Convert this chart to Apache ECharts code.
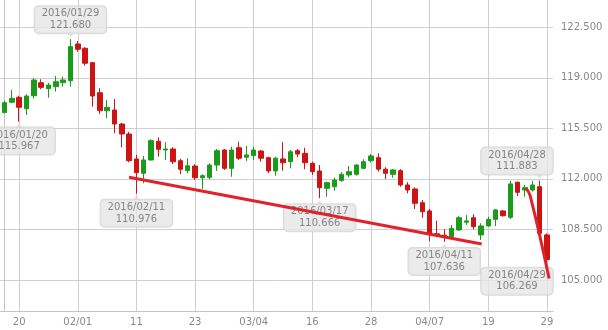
<!DOCTYPE html>
<html>
<head>
<meta charset="utf-8">
<script src="https://cdn.jsdelivr.net/npm/echarts/dist/echarts.min.js"></script>
<style>
html,body{margin:0;padding:0;background:#fff;}
#chart{width:608px;height:330px;}
</style>
</head>
<body>
<div id="chart"></div>
<script>
// ---------------- data ----------------
const dates = ['2016/01/18','2016/01/19','2016/01/20','2016/01/21','2016/01/22','2016/01/25','2016/01/26','2016/01/27','2016/01/28','2016/01/29',
'2016/02/01','2016/02/02','2016/02/03','2016/02/04','2016/02/05','2016/02/08','2016/02/09','2016/02/10','2016/02/11','2016/02/12',
'2016/02/15','2016/02/16','2016/02/17','2016/02/18','2016/02/19','2016/02/22','2016/02/23','2016/02/24','2016/02/25','2016/02/26',
'2016/02/29','2016/03/01','2016/03/02','2016/03/03','2016/03/04','2016/03/07','2016/03/08','2016/03/09','2016/03/10','2016/03/11',
'2016/03/14','2016/03/15','2016/03/16','2016/03/17','2016/03/18','2016/03/21','2016/03/22','2016/03/23','2016/03/24','2016/03/25',
'2016/03/28','2016/03/29','2016/03/30','2016/03/31','2016/04/01','2016/04/04','2016/04/05','2016/04/06','2016/04/07','2016/04/08',
'2016/04/11','2016/04/12','2016/04/13','2016/04/14','2016/04/15','2016/04/18','2016/04/19','2016/04/20','2016/04/21','2016/04/22',
'2016/04/25','2016/04/26','2016/04/27','2016/04/28','2016/04/29'];

const opens = [116.59,117.31,117.65,116.86,117.76,118.66,118.25,118.39,118.66,118.80,
121.34,121.05,120.05,117.97,116.72,116.77,115.80,115.11,113.38,112.39,
113.31,114.60,114.00,114.07,113.26,112.57,112.89,112.08,112.11,112.96,
114.00,112.73,114.16,113.50,113.61,113.93,113.47,112.55,113.38,113.19,
113.95,113.77,113.08,112.55,111.35,111.46,111.88,112.27,112.32,112.73,
113.26,113.47,112.67,112.32,112.57,111.58,111.30,110.35,109.78,108.20,
108.10,108.00,108.46,109.00,109.31,108.12,108.74,109.20,109.78,109.34,
111.77,111.23,111.23,111.46,108.12];

const closes = [117.28,117.58,116.96,117.74,118.85,118.34,118.50,118.73,118.85,121.16,
120.98,120.01,117.74,116.72,116.96,115.80,115.11,113.26,112.43,113.31,
114.65,114.05,114.07,113.19,112.67,112.91,112.08,112.22,112.96,113.95,
112.73,114.00,113.43,113.66,114.00,113.43,112.55,113.43,113.12,113.88,
113.72,113.12,112.50,111.39,111.74,111.92,112.32,112.50,112.96,113.19,
113.59,112.67,112.39,112.62,111.58,111.23,110.31,109.73,108.23,108.10,
108.00,108.58,109.31,109.09,108.69,108.74,109.20,109.85,109.45,111.65,
111.07,111.39,111.58,108.23,106.406];

const lows = [116.55,117.24,115.967,116.43,117.58,118.21,117.62,118.04,118.39,118.39,
120.81,119.84,117.00,116.50,116.20,115.16,114.19,113.15,110.976,111.70,
113.26,113.54,113.31,113.03,112.32,112.39,111.93,111.30,111.97,112.55,
112.62,112.15,113.31,113.24,113.31,113.19,112.39,112.22,112.57,112.73,
113.50,112.67,112.27,110.666,110.77,111.18,111.81,112.11,112.22,112.67,
113.12,112.50,111.99,112.08,111.46,111.00,109.92,109.31,107.70,108.00,
107.636,107.89,108.41,108.81,108.51,107.77,108.69,108.74,109.38,109.22,
110.82,110.77,111.12,108.12,106.269];

const highs = [117.42,118.16,117.76,117.86,118.97,118.90,118.66,119.13,119.08,121.68,
121.55,121.11,120.10,118.28,117.46,117.53,115.89,115.27,113.66,113.59,
114.74,114.88,114.54,114.19,113.40,113.43,113.01,112.32,113.08,114.07,
114.07,114.23,114.58,114.28,114.23,114.00,113.54,113.54,114.54,114.00,
114.07,114.16,113.19,112.96,111.81,112.08,112.46,112.89,113.01,113.36,
113.73,113.77,112.81,112.69,112.67,111.77,111.42,110.54,109.92,109.11,
108.51,108.81,109.43,109.50,109.55,108.93,109.38,109.92,109.85,111.86,
111.81,111.58,111.86,111.883,108.23];

const xTickDates = ['2016/01/20','2016/02/01','2016/02/11','2016/02/23','2016/03/04','2016/03/16','2016/03/28','2016/04/07','2016/04/19','2016/04/29'];
const xTickLabels = ['20','02/01','11','23','03/04','16','28','04/07','19','29'];
const yTickValues = [105.0, 108.5, 112.0, 115.5, 119.0, 122.5];

const highMarks = [['2016/01/29', 121.680], ['2016/04/28', 111.883]];
const lowMarks = [['2016/01/20', 115.967], ['2016/02/11', 110.976], ['2016/03/17', 110.666], ['2016/04/11', 107.636], ['2016/04/29', 106.269]];

// trend lines: [position in trading-day index, price]
const trendLine1 = [[17.0, 112.11], [65.1, 107.49]];
const trendLine2 = [[71.15, 111.35], [71.7, 110.85], [74.3, 105.10]];

// ---------------- chart ----------------
const FONT = 'DejaVu Sans';
const UP = '#1c9a1c', DOWN = '#cc1414';
const xTickIdx = xTickDates.map(d => dates.indexOf(d));
const candleData = dates.map((d, i) => [i, opens[i], closes[i], lows[i], highs[i]]);
const lastClose = closes[closes.length - 1];

const boxLabel = {
  show: true,
  fontFamily: FONT, fontSize: 10, lineHeight: 11.5, color: '#6a6a6a',
  backgroundColor: '#e6e6e6', borderColor: '#d2d2d2', borderWidth: 1, borderRadius: 4,
  padding: [2, 7], align: 'center',
  formatter: p => dates[p.value[0]] + '\n' + p.value[1].toFixed(3)
};

function markItems(list, shifts) {
  return list.map((m, k) => ({
    value: [dates.indexOf(m[0]), m[1]],
    label: { offset: [shifts ? shifts[k] : 0, 0] }
  }));
}

const chart = echarts.init(document.getElementById('chart'), null, { renderer: 'canvas' });

function buildOption(hiShift, loShift) {
  return {
    animation: false,
    backgroundColor: '#fff',
    grid: { left: 0, right: 55, top: 0, bottom: 19, containLabel: false },
    xAxis: {
      type: 'value', min: -0.61, max: 74.83,
      axisLine: { show: true, lineStyle: { color: '#c4c4c4' } },
      axisTick: { show: false, customValues: xTickIdx },
      axisLabel: {
        customValues: xTickIdx, color: '#888', fontFamily: FONT, fontSize: 10, margin: 6,
        formatter: v => xTickLabels[xTickIdx.indexOf(Math.round(v))] || ''
      },
      splitLine: { show: true, lineStyle: { color: '#cfcfcf' } }
    },
    yAxis: {
      type: 'value', position: 'right', min: 102.85, max: 124.39, scale: true,
      axisLine: { show: true, lineStyle: { color: '#c4c4c4' } },
      axisTick: { show: false, customValues: yTickValues },
      axisLabel: {
        customValues: yTickValues, color: '#888', fontFamily: FONT, fontSize: 10, margin: 8,
        formatter: v => v.toFixed(3)
      },
      splitLine: { show: true, lineStyle: { color: '#cfcfcf' } }
    },
    series: [
      {
        type: 'candlestick', z: 2, barWidth: 5,
        data: candleData,
        itemStyle: { color: UP, color0: DOWN, borderColor: UP, borderColor0: DOWN, borderWidth: 1 },
        markLine: {
          silent: true, symbol: ['none', 'none'], z: 6,
          lineStyle: { opacity: 0 },
          label: {
            show: true, position: 'end', distance: 3,
            formatter: () => lastClose.toFixed(3),
            backgroundColor: '#e8922a', color: '#fff', fontFamily: FONT, fontSize: 10,
            padding: [1, 2], lineHeight: 10
          },
          data: [{ yAxis: lastClose }]
        }
      },
      {
        type: 'scatter', z: 3, symbol: 'triangle', symbolSize: [8, 5], symbolRotate: 180,
        symbolOffset: [0, -4.5],
        itemStyle: { color: '#dcdcdc' },
        label: Object.assign({}, boxLabel, { position: 'top', distance: -1 }),
        data: markItems(highMarks, hiShift)
      },
      {
        type: 'scatter', z: 3, symbol: 'triangle', symbolSize: [8, 5],
        symbolOffset: [0, 4.5],
        itemStyle: { color: '#dcdcdc' },
        label: Object.assign({}, boxLabel, { position: 'bottom', distance: -1 }),
        data: markItems(lowMarks, loShift)
      },
      {
        type: 'line', z: 5, data: trendLine1, symbol: 'none', silent: true,
        lineStyle: { color: '#e0222a', width: 3 }
      },
      {
        type: 'line', z: 5, data: trendLine2, symbol: 'none', silent: true, smooth: 0.4,
        lineStyle: { color: '#e0222a', width: 3 }
      }
    ]
  };
}

chart.setOption(buildOption());

// keep annotation boxes inside the plot's right edge
const BOX_HALF = 36;
const plotRight = chart.convertToPixel({ gridIndex: 0 }, [74.83, 110])[0];
function shiftsFor(list) {
  return list.map(m => {
    const px = chart.convertToPixel({ gridIndex: 0 }, [dates.indexOf(m[0]), m[1]])[0];
    return Math.min(0, plotRight - (px + BOX_HALF));
  });
}
chart.setOption(buildOption(shiftsFor(highMarks), shiftsFor(lowMarks)));
</script>
</body>
</html>
